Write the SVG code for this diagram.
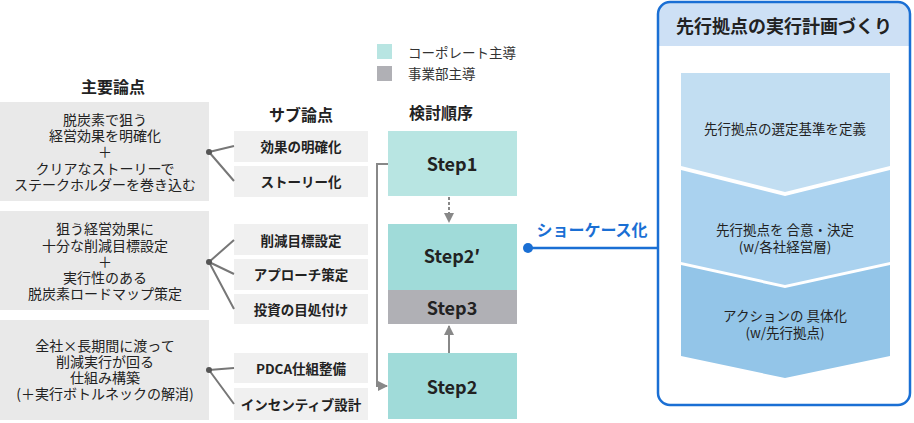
<svg xmlns="http://www.w3.org/2000/svg" width="914" height="423" viewBox="0 0 914 423">
<defs>
<style>
text{font-family:"Noto Sans CJK JP","Noto Sans",sans-serif;fill:#222;text-anchor:middle;dominant-baseline:central}
.main{fill:#e9e9e9}
.sub{fill:#f0f0f0}
.mt{font-size:14px}
.st{font-size:13.5px;font-weight:bold}
.hd{font-size:16px;font-weight:bold}
.lg{font-size:13.5px;text-anchor:start;fill:#333}
.stp{font-size:18px;font-weight:bold}
.ct{font-size:13.5px}
.conn{stroke:#777;stroke-width:2;fill:none}
</style>
<marker id="ah" viewBox="0 0 10 10" refX="9" refY="5" markerWidth="5" markerHeight="5" orient="auto-start-reverse" markerUnits="strokeWidth">
<path d="M0,0 L10,5 L0,10 z" fill="#888"/>
</marker>
</defs>
<rect width="914" height="423" fill="#fff"/>

<text class="hd" x="113" y="86">主要論点</text>
<text class="hd" x="301" y="114">サブ論点</text>
<text class="hd" x="441" y="112">検討順序</text>

<g id="legend">
<rect x="377" y="44" width="15" height="15" fill="#b8e5e2"/>
<rect x="377" y="66" width="15" height="15" fill="#b0b0b5"/>
<text class="lg" x="408" y="52">コーポレート主導</text>
<text class="lg" x="408" y="73">事業部主導</text>
</g>

<g id="main1">
<rect class="main" x="0" y="102" width="209" height="99"/>
<text class="mt"><tspan x="105" y="119">脱炭素で狙う</tspan><tspan x="105" y="135">経営効果を明確化</tspan><tspan x="105" y="151">＋</tspan><tspan x="105" y="168">クリアなストーリーで</tspan><tspan x="105" y="184">ステークホルダーを巻き込む</tspan></text>
</g>
<g id="main2">
<rect class="main" x="0" y="211" width="209" height="99"/>
<text class="mt"><tspan x="105" y="228">狙う経営効果に</tspan><tspan x="105" y="245">十分な削減目標設定</tspan><tspan x="105" y="261">＋</tspan><tspan x="105" y="277">実行性のある</tspan><tspan x="105" y="293">脱炭素ロードマップ策定</tspan></text>
</g>
<g id="main3">
<rect class="main" x="0" y="320" width="209" height="100"/>
<text class="mt"><tspan x="105" y="345">全社×長期間に渡って</tspan><tspan x="105" y="361">削減実行が回る</tspan><tspan x="105" y="377">仕組み構築</tspan><tspan x="105" y="393">(＋実行ボトルネックの解消)</tspan></text>
</g>

<g id="sub1"><rect class="sub" x="234" y="131" width="134" height="31"/><text class="st" x="301" y="146">効果の明確化</text></g>
<g id="sub2"><rect class="sub" x="234" y="166" width="134" height="31"/><text class="st" x="301" y="181">ストーリー化</text></g>
<g id="sub3"><rect class="sub" x="234" y="224" width="134" height="31"/><text class="st" x="301" y="240">削減目標設定</text></g>
<g id="sub4"><rect class="sub" x="234" y="259" width="134" height="31"/><text class="st" x="301" y="274">アプローチ策定</text></g>
<g id="sub5"><rect class="sub" x="234" y="294" width="134" height="30"/><text class="st" x="301" y="309">投資の目処付け</text></g>
<g id="sub6"><rect class="sub" x="234" y="353" width="134" height="30"/><text class="st" x="301" y="368">PDCA仕組整備</text></g>
<g id="sub7"><rect class="sub" x="234" y="388" width="134" height="32"/><text class="st" x="301" y="404">インセンティブ設計</text></g>

<g id="step1"><rect x="388" y="131" width="129" height="65" fill="#b8e5e2"/><text class="stp" x="452" y="163">Step1</text></g>
<g id="step2p"><rect x="388" y="224" width="129" height="66" fill="#a0dbd9"/><text class="stp" x="452" y="255">Step2′</text></g>
<g id="step3"><rect x="388" y="290" width="129" height="34" fill="#b0b0b5"/><text class="stp" x="452" y="307">Step3</text></g>
<g id="step2"><rect x="388" y="353" width="129" height="66" fill="#a0dbd9"/><text class="stp" x="452" y="386">Step2</text></g>

<g id="connectors">
<path class="conn" d="M209,152 L234,146 M209,152 L234,181"/>
<path class="conn" d="M209,262 L234,240 M209,262 L234,274 M209,262 L234,309"/>
<path class="conn" d="M209,370 L234,368 M209,370 L234,404"/>
<circle cx="209" cy="152" r="3" fill="#555"/>
<circle cx="209" cy="262" r="3" fill="#555"/>
<circle cx="209" cy="370" r="3" fill="#555"/>
<path d="M449,197 L449,222" stroke="#888" stroke-width="2" stroke-dasharray="3,2" fill="none" marker-end="url(#ah)"/>
<path d="M449,353 L449,326" stroke="#888" stroke-width="2" fill="none" marker-end="url(#ah)"/>
<path d="M388,164 L377,164 L377,386 L387,386" stroke="#888" stroke-width="2" fill="none" marker-end="url(#ah)"/>
<path d="M528,248 L658,248" stroke="#1a6fd4" stroke-width="2.5" fill="none"/>
<circle cx="528" cy="248" r="5" fill="#1a6fd4"/>
<text x="592" y="229" style="font-size:16px;font-weight:bold;fill:#1a6fd4">ショーケース化</text>
</g>

<g id="panel">
<path d="M658,46 L658,14 Q658,2 670,2 L898,2 Q910,2 910,14 L910,46 Z" fill="#cde0f5"/>
<rect x="658" y="2" width="252" height="403" rx="12" ry="12" fill="none" stroke="#1a6fd4" stroke-width="2.5"/>
<text x="784" y="25" style="font-size:18px;font-weight:bold">先行拠点の実行計画づくり</text>
</g>
<g id="chev1">
<path d="M681,73 L890,73 L890,166 L785,192 L681,166 Z" fill="#c2def2"/>
<text class="ct" x="785" y="128">先行拠点の選定基準を定義</text>
</g>
<g id="chev2">
<path d="M681,170 L785,196 L890,170 L890,262 L785,285 L681,262 Z" fill="#aad2ef"/>
<text class="ct"><tspan x="785" y="229">先行拠点を 合意・決定</tspan><tspan x="785" y="246">(w/各社経営層)</tspan></text>
</g>
<g id="chev3">
<path d="M681,265 L785,288 L890,265 L890,356 L785,378 L681,356 Z" fill="#93c5e8"/>
<text class="ct"><tspan x="785" y="315">アクションの 具体化</tspan><tspan x="785" y="332">(w/先行拠点)</tspan></text>
</g>
</svg>
